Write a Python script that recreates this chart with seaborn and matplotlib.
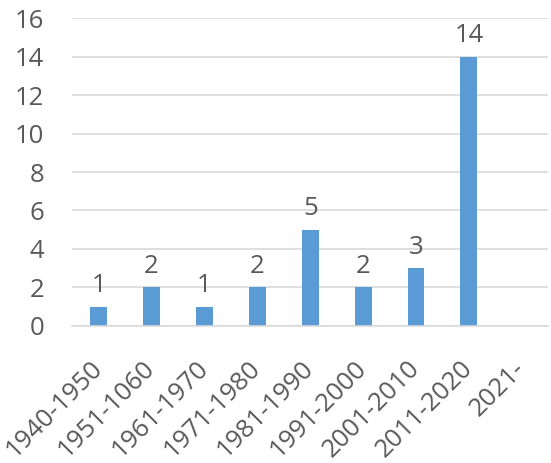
import pandas as pd
import seaborn as sns
import matplotlib.pyplot as plt

# Data
periods = ['1940-1950', '1951-1060', '1961-1970', '1971-1980', '1981-1990',
           '1991-2000', '2001-2010', '2011-2020', '2021-']
counts = [1, 2, 1, 2, 5, 2, 3, 14, None]

df = pd.DataFrame({'period': periods, 'count': counts})

sns.set_style('white')
plt.rcParams['font.family'] = ['Open Sans', 'DejaVu Sans']

text_color = '#595959'
bar_color = '#5B9BD5'

fig = plt.figure(figsize=(5.51, 4.63), dpi=100)
ax = fig.add_axes([0.131, 0.296, 0.864, 0.665])

sns.barplot(data=df, x='period', y='count', color=bar_color, width=0.32,
            saturation=1, edgecolor='none', ax=ax)

# Data labels above bars
for i, v in enumerate(counts):
    if v is not None:
        ax.annotate(str(v), (i, v), xytext=(0, 6), textcoords='offset points',
                    ha='center', va='bottom', fontsize=18.5, color=text_color)

ax.set_ylim(0, 16)
ax.set_yticks(range(0, 17, 2))
ax.set_xlim(-0.5, len(periods) - 0.5)
ax.yaxis.grid(True, color='#d9d9d9', linewidth=1.2)
ax.set_axisbelow(True)
for side in ['top', 'right', 'left']:
    ax.spines[side].set_visible(False)
ax.spines['bottom'].set_color('#d9d9d9')
ax.spines['bottom'].set_linewidth(1.2)

ax.set_xlabel('')
ax.set_ylabel('')
ax.tick_params(axis='y', length=0, labelsize=18.5, labelcolor=text_color, pad=20)
ax.tick_params(axis='x', length=0, labelsize=18.5, labelcolor=text_color, pad=28)
plt.setp(ax.get_xticklabels(), rotation=45, ha='right', va='center',
         rotation_mode='anchor')

plt.savefig('out.png', dpi=100)
